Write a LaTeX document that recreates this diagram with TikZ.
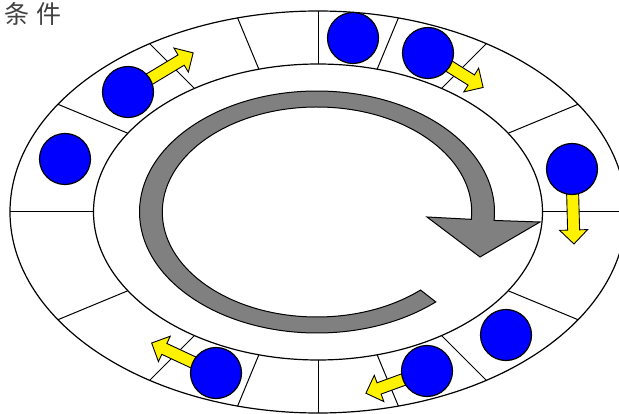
\documentclass[tikz,border=0pt]{standalone}
\usepackage{fontspec}
\newfontfamily\cjk{Noto Sans CJK SC}

\newcommand{\moveArrow}[3]{%
  \draw[movearrow, shift={#1}, rotate=#2]
    (0,-6) -- ({#3-14},-6) -- ({#3-14},-14) -- (#3,0)
    -- ({#3-14},14) -- ({#3-14},6) -- (0,6) -- cycle;}

\begin{document}
\begin{tikzpicture}[x=1pt, y=1pt,
    ring/.style={draw=black, line width=1.2pt, fill=white},
    spoke/.style={draw=black, line width=1pt},
    bandarrow/.style={draw=black, line width=1pt, fill=gray},
    movearrow/.style={draw=black, line width=0.9pt, fill=yellow},
    ball/.style={draw=black, line width=1.2pt, fill=blue}]

  % Frame of the picture
  \useasboundingbox (0,0) rectangle (619,413);
  \clip (0,0) rectangle (619,413);

  % Define centres
  \coordinate (track) at (318,201);
  \coordinate (band) at (317,201);

  % Draw the outer track with its cells
  \draw[ring] (track) ellipse [x radius=308, y radius=201];
  \begin{scope}
    \clip (track) ellipse [x radius=308, y radius=201];
    \foreach \a in {0,22.5,...,337.5}
      \draw[spoke] (track) -- ++(\a:400);
  \end{scope}
  \draw[ring] (track) ellipse [x radius=224.5, y radius=148];

  % Draw the big turning arrow
  \draw[bandarrow] ([shift={(-48:177.5 and 121)}]band)
    arc [start angle=-48, end angle=-364, x radius=177.5, y radius=121]
    -- (540,191) -- (480,156) -- (427,196)
    -- ([shift={(-364:154.7 and 105)}]band)
    arc [start angle=-364, end angle=-48, x radius=154.7, y radius=105]
    -- cycle;

  % Define ball positions
  \coordinate (B1) at (128,321);
  \coordinate (B2) at (65,254);
  \coordinate (B3) at (353,375);
  \coordinate (B4) at (428,360);
  \coordinate (B5) at (572,244);
  \coordinate (B6) at (506,78);
  \coordinate (B7) at (427,42);
  \coordinate (B8) at (216,40);

  % Draw the moving directions
  \moveArrow{(B1)}{31}{76}
  \moveArrow{(B4)}{-32}{65}
  \moveArrow{(B5)}{-88.5}{75}
  \moveArrow{(B7)}{200}{65}
  \moveArrow{(B8)}{155}{71}

  % Draw the balls
  \foreach \b in {B1,B2,B3,B4,B5,B6,B7,B8}
    \draw[ball] (\b) circle (25.5);

  % Title
  \node[anchor=north west, inner sep=0pt, text=black!75] (title) at (4,411)
    {\cjk\fontsize{25}{25}\selectfont 条\hspace{7pt}件};

\end{tikzpicture}
\end{document}
